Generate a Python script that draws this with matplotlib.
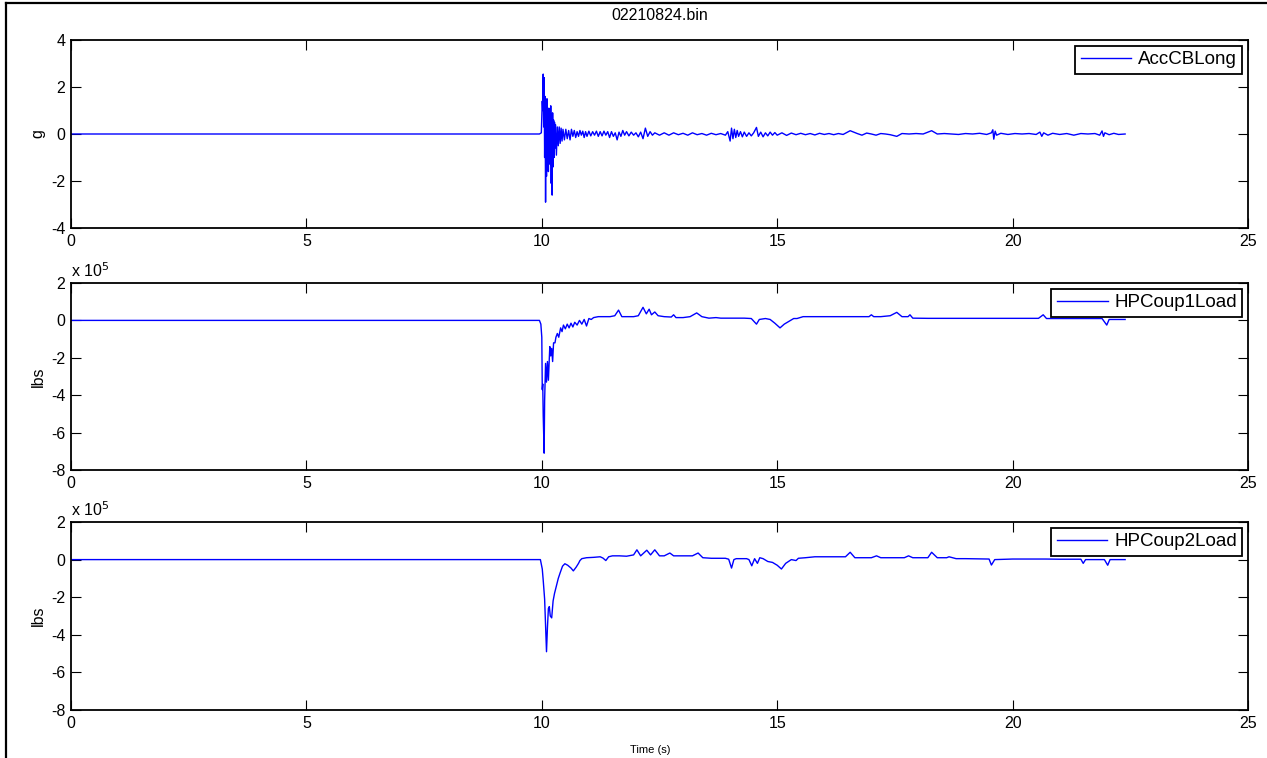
import numpy as np
import matplotlib
matplotlib.use('Agg')
import matplotlib.pyplot as plt
from matplotlib.lines import Line2D

plt.rcParams['font.family'] = ['Liberation Sans', 'DejaVu Sans']
plt.rcParams['axes.unicode_minus'] = False

# --- data ---
acc_t = [0.0, 9.95, 9.99, 10.01, 10.02, 10.03, 10.04, 10.05, 10.06, 10.07, 10.08, 10.09,
         10.10, 10.11, 10.12, 10.13, 10.14, 10.15, 10.16, 10.17, 10.18, 10.19, 10.20, 10.21,
         10.22, 10.23, 10.24, 10.25, 10.26, 10.27, 10.28, 10.29, 10.31, 10.33, 10.35, 10.37,
         10.39, 10.41, 10.43, 10.45, 10.48, 10.51, 10.54, 10.57, 10.60, 10.63, 10.66, 10.69,
         10.72, 10.75, 10.78, 10.81, 10.84, 10.87, 10.90, 10.93, 10.96, 11.00, 11.04, 11.08,
         11.12, 11.16, 11.20, 11.24, 11.28, 11.32, 11.36, 11.40, 11.44, 11.48, 11.52, 11.56,
         11.60, 11.64, 11.68, 11.72, 11.76, 11.80, 11.85, 11.90, 11.95, 12.00, 12.05, 12.10,
         12.15, 12.20, 12.25, 12.30, 12.35, 12.40, 12.50, 12.60, 12.70, 12.80, 12.90, 13.00,
         13.10, 13.20, 13.30, 13.40, 13.50, 13.60, 13.70, 13.80, 13.90, 13.95, 14.00, 14.03,
         14.06, 14.09, 14.12, 14.15, 14.18, 14.22, 14.26, 14.30, 14.35, 14.40, 14.45, 14.50,
         14.56, 14.60, 14.65, 14.70, 14.75, 14.80, 14.85, 14.90, 14.95, 15.00, 15.10, 15.20,
         15.30, 15.40, 15.50, 15.60, 15.70, 15.80, 15.90, 16.00, 16.10, 16.20, 16.30, 16.40,
         16.55, 16.70, 16.80, 16.90, 17.00, 17.10, 17.20, 17.30, 17.40, 17.54, 17.65, 17.80,
         17.95, 18.10, 18.28, 18.40, 18.55, 18.70, 18.85, 19.00, 19.15, 19.30, 19.45, 19.55,
         19.58, 19.60, 19.63, 19.66, 19.75, 19.90, 20.05, 20.20, 20.35, 20.50, 20.58, 20.62,
         20.66, 20.75, 20.85, 21.00, 21.15, 21.30, 21.45, 21.60, 21.75, 21.85, 21.90, 21.93,
         21.96, 22.05, 22.15, 22.25, 22.39]
acc_g = [0.0, 0.0, 0.05, 1.4, 1.0, 2.55, 0.3, 2.4, -1.0, 1.6, -2.9, 1.3,
         -1.8, 1.5, -1.0, 0.9, -1.6, 1.1, -0.8, 0.7, -1.3, 1.2, -2.1, 0.8,
         -2.6, 0.9, -1.4, 0.6, -1.0, 0.5, -0.6, 0.4, -0.9, 0.3, -0.5, 0.3,
         -0.4, 0.25, -0.3, 0.2, -0.25, 0.2, -0.2, 0.15, -0.25, 0.2, -0.1, 0.15,
         -0.15, 0.1, -0.1, 0.15, -0.05, 0.12, -0.15, 0.1, -0.1, 0.12, -0.08, 0.1,
         -0.05, 0.12, -0.1, 0.1, -0.08, 0.12, -0.05, 0.1, -0.15, 0.1, -0.1, 0.05,
         -0.25, 0.08, -0.1, 0.15, -0.05, 0.1, -0.08, 0.08, -0.05, 0.05, -0.12, 0.08,
         -0.2, 0.25, -0.1, 0.1, -0.05, 0.05, -0.05, 0.05, -0.05, 0.05, -0.03, 0.03,
         -0.05, 0.05, -0.03, 0.02, -0.05, 0.03, -0.03, 0.02, -0.05, 0.1, -0.3, 0.25,
         -0.2, 0.2, -0.15, 0.15, -0.1, 0.1, -0.12, 0.08, -0.1, 0.05, -0.08, 0.05,
         0.28, -0.1, 0.08, -0.12, 0.05, -0.08, 0.08, -0.05, 0.06, -0.05, 0.05, -0.06,
         0.04, -0.03, 0.03, -0.03, 0.02, -0.04, 0.03, -0.02, 0.02, -0.03, 0.02, -0.02,
         0.14, 0.02, -0.05, 0.04, 0.0, -0.05, 0.02, 0.0, -0.03, -0.1, 0.02, 0.0,
         0.02, 0.0, 0.14, 0.0, 0.02, 0.0, -0.02, 0.02, 0.0, 0.03, -0.02, 0.05,
         0.18, -0.22, 0.12, -0.05, 0.03, -0.02, 0.02, 0.0, 0.02, -0.02, 0.08, -0.1,
         0.05, -0.05, 0.03, -0.02, 0.02, -0.05, 0.02, 0.0, 0.02, -0.05, 0.13, -0.1,
         0.05, -0.03, 0.03, -0.02, 0.0]

coup1_t = [0.0, 9.95, 9.98, 10.00, 10.01, 10.02, 10.03, 10.05, 10.06, 10.08, 10.10, 10.12,
           10.14, 10.17, 10.19, 10.21, 10.23, 10.25, 10.28, 10.30, 10.33, 10.36, 10.40, 10.43,
           10.46, 10.50, 10.54, 10.58, 10.62, 10.66, 10.70, 10.75, 10.80, 10.85, 10.90, 10.95,
           11.00, 11.05, 11.10, 11.20, 11.30, 11.45, 11.55, 11.63, 11.70, 11.80, 11.95, 12.05,
           12.15, 12.22, 12.28, 12.33, 12.40, 12.47, 12.60, 12.75, 12.80, 12.85, 13.00, 13.15,
           13.29, 13.40, 13.55, 13.70, 13.80, 14.00, 14.30, 14.45, 14.56, 14.62, 14.75, 14.85,
           14.95, 15.06, 15.15, 15.25, 15.35, 15.42, 15.55, 16.00, 16.50, 16.95, 17.00, 17.05,
           17.20, 17.40, 17.54, 17.65, 17.78, 17.82, 17.88, 18.20, 19.00, 20.00, 20.55, 20.65,
           20.72, 21.20, 21.90, 22.00, 22.05, 22.39]
coup1_load = [0.0, 0.0, -0.2, -0.9, -3.7, -3.4, -5.1, -7.1, -4.3, -2.3, -3.3, -2.2,
              -3.2, -1.4, -1.9, -1.5, -2.2, -1.2, -1.2, -0.9, -0.7, -0.9, -0.4, -0.6,
              -0.25, -0.45, -0.2, -0.4, -0.15, -0.35, -0.1, -0.25, 0.0, -0.2, 0.05, -0.3,
              0.1, 0.05, 0.15, 0.2, 0.2, 0.2, 0.25, 0.55, 0.2, 0.2, 0.2, 0.25,
              0.7, 0.35, 0.6, 0.3, 0.45, 0.25, 0.2, 0.18, 0.3, 0.15, 0.15, 0.2,
              0.4, 0.2, 0.12, 0.15, 0.12, 0.12, 0.12, 0.1, -0.2, 0.05, 0.1, 0.05,
              -0.15, -0.4, -0.2, -0.05, 0.1, 0.1, 0.2, 0.2, 0.2, 0.2, 0.3, 0.2,
              0.2, 0.25, 0.43, 0.2, 0.2, 0.3, 0.12, 0.11, 0.11, 0.11, 0.11, 0.3,
              0.1, 0.1, 0.1, -0.25, 0.05, 0.05]

coup2_t = [0.0, 9.97, 10.01, 10.03, 10.06, 10.08, 10.10, 10.12, 10.14, 10.16, 10.18, 10.21,
           10.24, 10.27, 10.31, 10.35, 10.39, 10.44, 10.49, 10.55, 10.62, 10.67, 10.73, 10.78,
           10.81, 10.85, 10.95, 11.10, 11.24, 11.30, 11.36, 11.42, 11.50, 11.65, 11.80, 11.95,
           12.02, 12.10, 12.23, 12.31, 12.40, 12.50, 12.60, 12.72, 12.80, 13.00, 13.20, 13.32,
           13.42, 13.60, 13.90, 13.97, 14.03, 14.08, 14.13, 14.35, 14.40, 14.46, 14.52, 14.58,
           14.63, 14.70, 14.80, 14.90, 15.00, 15.09, 15.18, 15.30, 15.40, 15.45, 15.60, 15.80,
           16.20, 16.45, 16.55, 16.65, 17.00, 17.11, 17.20, 17.70, 17.79, 17.88, 18.20, 18.28,
           18.40, 18.60, 18.65, 18.80, 19.00, 19.50, 19.55, 19.62, 20.00, 20.70, 21.00, 21.45,
           21.50, 21.55, 21.95, 22.02, 22.07, 22.39]
coup2_load = [0.0, 0.0, -0.5, -1.1, -2.1, -3.5, -4.9, -3.6, -2.6, -2.5, -3.0, -3.1,
              -2.2, -1.8, -1.4, -1.0, -0.7, -0.35, -0.22, -0.3, -0.45, -0.6, -0.4, -0.2,
              -0.05, 0.05, 0.1, 0.12, 0.15, 0.08, -0.05, 0.15, 0.2, 0.2, 0.18, 0.25,
              0.52, 0.2, 0.5, 0.25, 0.52, 0.2, 0.2, 0.35, 0.2, 0.2, 0.2, 0.35,
              0.1, 0.07, 0.07, 0.02, -0.45, 0.0, 0.05, 0.05, 0.0, -0.33, 0.05, -0.2,
              0.1, 0.05, -0.1, -0.15, -0.3, -0.5, -0.2, 0.0, -0.05, 0.07, 0.1, 0.15,
              0.15, 0.15, 0.39, 0.1, 0.1, 0.2, 0.1, 0.1, 0.2, 0.1, 0.1, 0.39,
              0.1, 0.1, 0.15, 0.05, 0.05, 0.03, -0.29, 0.0, 0.03, 0.03, 0.02, 0.02,
              -0.2, 0.0, 0.0, -0.3, 0.0, 0.0]

x_ticks = [0, 5, 10, 15, 20, 25]
acc_ticks = [-4, -2, 0, 2, 4]
load_ticks = [-8, -6, -4, -2, 0, 2]

W, H = 1267, 758
fig = plt.figure(figsize=(W / 100, H / 100), dpi=100)

# figure frame (left and top edge only visible)
fig.add_artist(Line2D([6 / W, 6 / W], [0, 1 - 2.5 / H], color='black', lw=1.6, transform=fig.transFigure))
fig.add_artist(Line2D([6 / W, 1], [1 - 2.5 / H, 1 - 2.5 / H], color='black', lw=1.6, transform=fig.transFigure))

left, width = 71 / W, (1248 - 71) / W
rows = [(40, 228), (283, 470), (522, 710)]
axes = []
for top, bot in rows:
    ax = fig.add_axes([left, 1 - bot / H, width, (bot - top) / H])
    axes.append(ax)

series = [
    (acc_t, acc_g, 'AccCBLong', 'g', acc_ticks, (-4, 4)),
    (coup1_t, coup1_load, 'HPCoup1Load', 'lbs', load_ticks, (-8, 2)),
    (coup2_t, coup2_load, 'HPCoup2Load', 'lbs', load_ticks, (-8, 2)),
]

fs = 11.5
for i, (ax, (t, v, name, unit, yt, ylim)) in enumerate(zip(axes, series)):
    ax.plot(t, v, color='#0000ff', lw=1.0, label=name)
    ax.set_xlim(0, 25)
    ax.set_ylim(*ylim)
    ax.set_xticks(x_ticks)
    ax.set_yticks(yt)
    ax.tick_params(direction='in', length=7, width=0.8, labelsize=fs,
                   top=True, right=True, pad=4)
    ax.tick_params(axis='x', pad=4)
    for s in ax.spines.values():
        s.set_linewidth(1.3)
    ax.set_ylabel(unit, fontsize=fs, labelpad=4)
    leg = ax.legend(loc='upper right', fontsize=13.5, fancybox=False, framealpha=1,
                    edgecolor='black', borderaxespad=0.3, handlelength=2.7,
                    borderpad=0.3, handletextpad=0.35)
    leg.get_frame().set_linewidth(1.3)
    if i > 0:
        ax.text(0.0, 1.015, 'x 10$^{5}$', transform=ax.transAxes, fontsize=fs,
                ha='left', va='bottom')

fig.text(660 / W, 1 - 15 / H, '02210824.bin', fontsize=fs, ha='center', va='center')
fig.text(650 / W, 1 - 750 / H, 'Time (s)', fontsize=8, ha='center', va='center')

fig.savefig('out.png', dpi=100)
